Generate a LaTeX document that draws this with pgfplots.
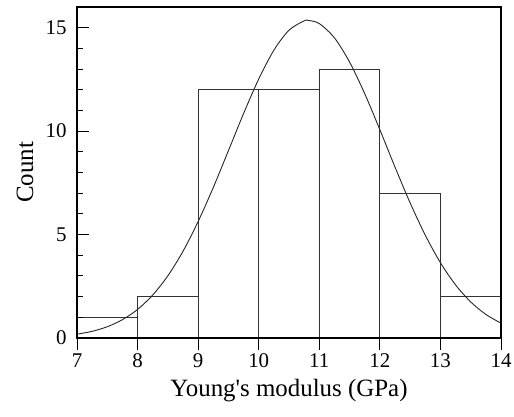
\documentclass[border=0pt]{standalone}
\usepackage{fontspec}
\setmainfont{Liberation Serif}
\newfontfamily\qfont{Liberation Serif}
\usepackage{pgfplots}
\pgfplotsset{compat=1.18}
\usetikzlibrary{calc}
\begin{document}
\begin{tikzpicture}
\begin{axis}[
  scale only axis,
  width=424bp, height=331bp,
  xmin=7, xmax=14, ymin=0, ymax=16,
  xtick={7,8,...,14},
  ytick={0,5,10,15},
  minor y tick num=4,
  xtick pos=left, ytick pos=left,
  xtick align=outside, ytick align=inside,
  major tick length=12bp, minor tick length=6bp,
  every tick/.style={black, line width=0.9pt},
  axis line style={line width=2.6pt},
  axis on top,
  /pgf/number format/assume math mode=true,
  xticklabel style={font=\fontsize{21}{23}\selectfont},
  yticklabel style={font=\fontsize{21}{23}\selectfont, xshift=-7bp},
  every axis x label/.style={at={(axis description cs:0.5,0)}, anchor=center, yshift=-53bp, font=\fontsize{25}{27}\selectfont},
  every axis y label/.style={at={(axis description cs:0,0.5)}, xshift=-52bp, rotate=90, anchor=center, font=\fontsize{25}{27}\selectfont},
  xlabel={Young{\qfont '}s modulus (GPa)},
  ylabel={Count},
]
\addplot[ybar interval, fill=white, draw=black!80, line width=0.9pt]
  coordinates {(7,1) (8,2) (9,12) (10,12) (11,13) (12,7) (13,2) (14,2)};
\addplot[black!85, line width=0.9pt, smooth] coordinates {
(7,0.185) (7.25,0.323) (7.5,0.545) (7.75,0.885) (8,1.381) (8.25,2.077)
(8.5,3.007) (8.75,4.192) (9,5.630) (9.25,7.276) (9.5,9.057) (9.75,10.85)
(10,12.52) (10.25,13.91) (10.5,14.88) (10.75,15.33) (10.82,15.35) (11,15.20)
(11.25,14.51) (11.5,13.34) (11.75,11.81) (12,10.07) (12.25,8.263) (12.5,6.530)
(12.75,4.969) (13,3.640) (13.25,2.568) (13.5,1.744) (13.75,1.140) (14,0.718)};
\end{axis}
\pgfresetboundingbox
\path ($(current axis.south west)+(-77bp,-78bp)$) rectangle ($(current axis.north east)+(13bp,7bp)$);
\end{tikzpicture}
\end{document}
